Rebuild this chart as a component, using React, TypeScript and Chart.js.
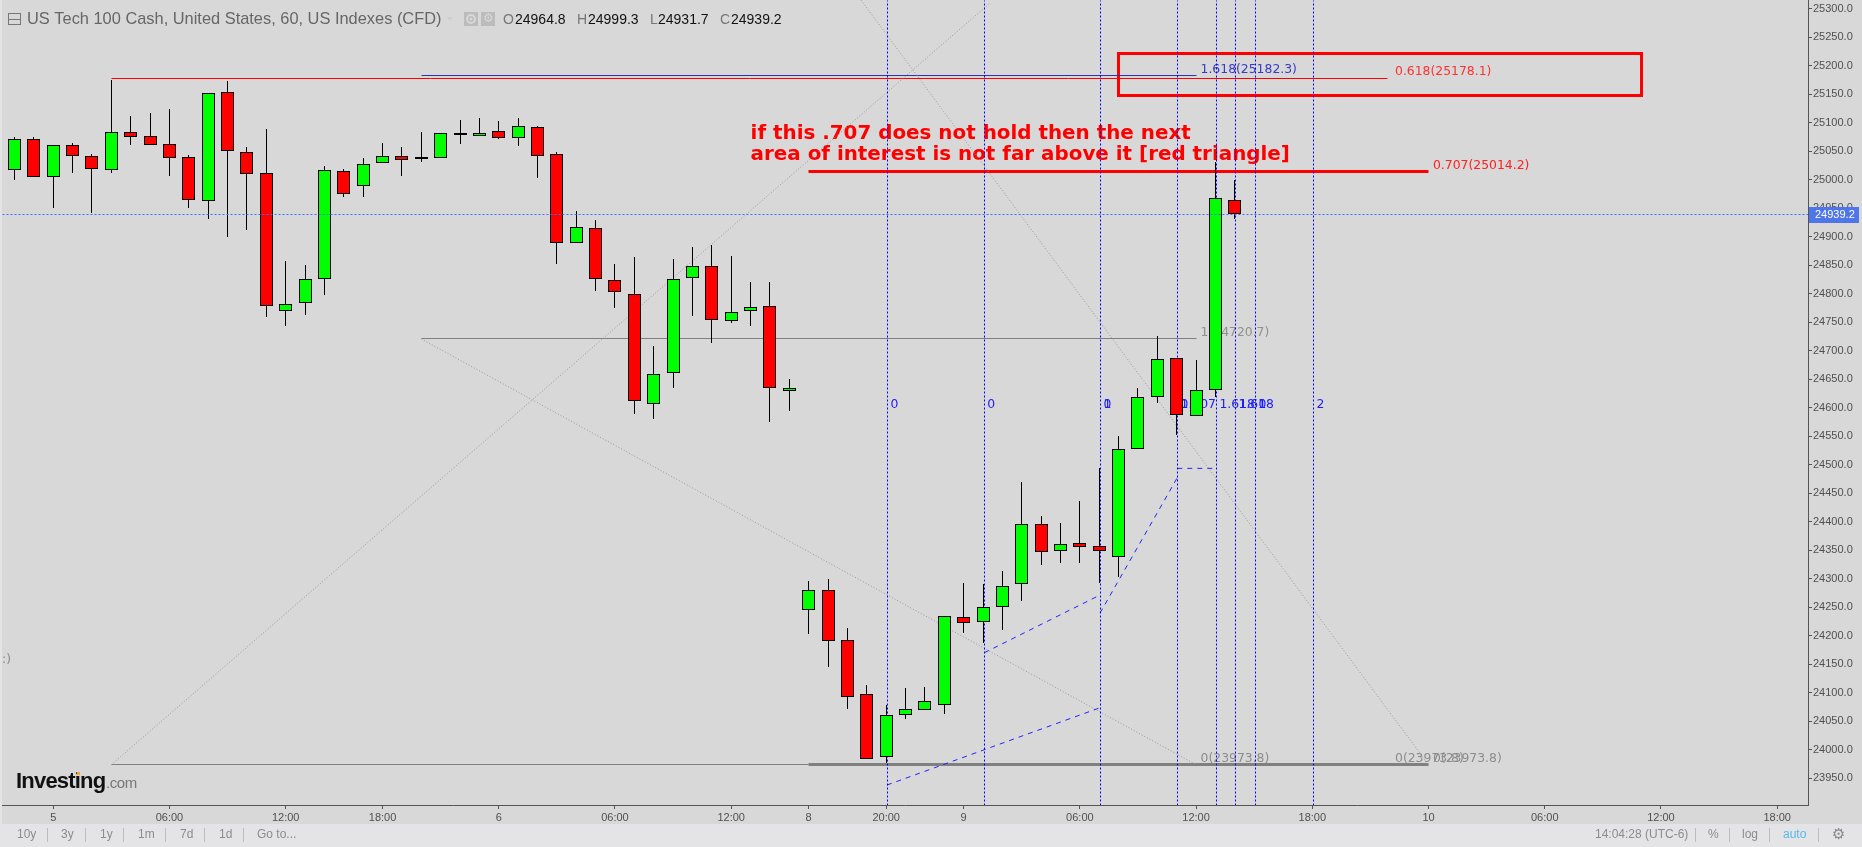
import React, { useEffect, useRef } from "react";
import { Chart, registerables } from "chart.js";

Chart.register(...registerables);

// 60-minute candles, US Tech 100 Cash
const opens = [25017,25071,25004,25061,25042,25017,25084,25076.7,25062.6,25040,24962,25153.8,25048.6,25011.8,24769,24783,24825,25015.3,24988.4,25028.7,25041.6,25035.7,25037.5,25081.9,25076,25085.4,25072.6,25092.5,25045,24888.4,24915.3,24824,24799.5,24606,24660,24827,24848.6,24751.6,24769,24778.5,24628.8,24244.6,24280.3,24192.6,24097.9,23986.8,24060.4,24069,24078,24233,24223.6,24249.9,24290,24396,24348,24362.7,24357.5,24337.6,24527.6,24618.3,24687.3,24585,24630.5,24964.8];
const highs = [25075.5,25074,25061,25065,25045,25175.5,25112,25117.6,25124.6,25044,25152,25173.7,25058,25089.5,24858,24851,25024.6,25019.4,25038.7,25065,25058,25083.7,25081.9,25105.3,25108.8,25103.6,25108.8,25094.8,25049,24945.7,24930,24852.7,24865,24708.9,24861.5,24882.5,24886,24866.8,24821,24821,24651,24296.7,24300,24214,24114,24079,24109,24110.7,24234.7,24293,24290.8,24314.2,24470,24410.7,24398.4,24437,24494.3,24551,24634.6,24726,24687.3,24684.3,25030.5,24999.3];
const lows = [25000,25004,24951,25011,24942,25011,25061.5,25060,25007,24951,24931.6,24900,24912,24759.8,24744,24763,24797,24970,24970,25028.7,25007,25030.5,25037.5,25063.2,25076,25070.8,25059.7,25003.6,24852.7,24888.4,24805,24775.6,24589.6,24580.8,24635,24761.5,24714,24749,24743.9,24575.6,24595,24203.7,24145.8,24072,23983,23977.4,24054.6,24069,24063.4,24205.5,24187.9,24210.7,24261.6,24324.7,24328,24328,24293,24303.7,24527.6,24609,24552.8,24585,24618.8,24931.7];
const closes = [25071.4,25004,25061,25041,25018,25083.7,25074.3,25060,25037.5,24964.4,25152,25049.8,25009.4,24777.9,24782,24826,25017,24974.3,25027.6,25041.6,25034,25039.8,25081.9,25077.8,25081.9,25072.6,25094.2,25041,24888.4,24917,24825,24802.4,24611,24659,24826,24848.6,24753.3,24768,24776.7,24634,24634,24280.3,24190,24092,23983,24061,24071.5,24085.6,24234.7,24221.8,24250.5,24287.3,24396,24346.4,24361,24355,24348,24527.6,24619,24685.5,24586.7,24631.1,24968,24939.2];

const xTickIndex = [2,8,14,19,25,31,37,41,45,49,55,61,67,73,79,85,91];
const xTickLabels = ["5","06:00","12:00","18:00","6","06:00","12:00","8","20:00","9","06:00","12:00","18:00","10","06:00","12:00","18:00"];

const lastPrice = 24939.2;
const xRange = [-0.645, 92.59];
const yRange = [23903.1, 25315.1];

const verticalIndex = [45.07,50.07,56.06,60.04,62.05,63.03,64.07,67.06];

const level618 = 25178.1;
const level1618 = 25182.3;
const level707 = 25014.2;
const level1 = 24720.7;
const level0 = 23973.8;

const redBox = [[56.97,25220.4],[84,25220.4],[84,25148.4],[56.97,25148.4],[56.97,25220.4]];
const diagonals = [
  [[5,23973.8],[50.4,25311]],
  [[21,24720.7],[61,23973.8]],
  [[43.7,25315],[73,23973.8]],
];
const dashedPaths = [
  [[45.04,23938.1],[56.04,24073.7]],
  [[50.07,24170.2],[56.04,24271.4]],
  [[56.04,24239.8],[60.03,24477.2]],
  [[60.03,24493.6],[62.03,24493.6]],
];

const levelLabels = [
  ["1.618(25182.3)",61.23,25182.3,"#3a3ac4"],
  ["0.618(25178.1)",71.27,25178.1,"#ff3030"],
  ["0.707(25014.2)",73.23,25014.2,"#ff2020"],
  ["1(24720.7)",61.23,24720.7,"#909090"],
  ["0(23973.8)",61.23,23973.8,"#8c8c8c"],
  ["0(23973.8)",71.27,23973.8,"#8c8c8c"],
  ["0(23973.8)",73.23,23973.8,"#8c8c8c"],
];
const timeLabels = [
  ["0",45.07],["0",50.07],["0",56.06],["1",56.06],["0.707",60.04],["1",60.04],["1.618",62.05],["1.618",63.03],["1",64.07],["0",64.07],["2",67.06],
];
const timeLabelPrice = 24605;

const noteLines = ["if this .707 does not hold then the next","area of interest is not far above it [red triangle]"];
const notePrices = [25081,25044];
const noteIndex = 38;

const titleText = "US Tech 100 Cash, United States, 60, US Indexes (CFD)";
const ohlcLabels = [["O","24964.8"],["H","24999.3"],["L","24931.7"],["C","24939.2"]];
const rangeButtons = ["10y","3y","1y","1m","7d","1d","Go to..."];

const hSeg = (a: number, b: number, v: number) => [{ x: a, y: v }, { x: b, y: v }];
const toPts = (p: number[][]) => p.map(([x, y]) => ({ x, y }));

const snapPlugin = {
  id: "snap",
  afterDatasetsUpdate(chart: any) {
    chart.getSortedVisibleDatasetMetas().forEach((meta: any) => {
      const ds = chart.data.datasets[meta.index];
      if (meta.type === "bar") {
        meta.data.forEach((el: any) => {
          el.x = Math.floor(el.x) + 0.5;
          el.y = Math.round(el.y);
          el.base = Math.round(el.base);
        });
      } else if (ds.snap) {
        meta.data.forEach((el: any) => {
          el.x = Math.floor(el.x) + 0.5;
          el.y = Math.floor(el.y) + 0.5;
        });
      }
    });
  },
};

const backdropPlugin = {
  id: "backdrop",
  beforeDraw(chart: any) {
    const c = chart.ctx;
    c.save();
    c.fillStyle = "#d8d8d8";
    c.fillRect(0, 0, 1862, 847);
    c.fillStyle = "#e4e4e6";
    c.fillRect(0, 0, 2, 847);
    c.fillRect(0, 824, 1862, 23);
    c.restore();
  },
  beforeDatasetsDraw(chart: any) {
    const c = chart.ctx;
    const X = chart.scales.x;
    const Y = chart.scales.y;
    c.save();
    c.textBaseline = "middle";
    c.textAlign = "left";
    c.font = "12.4px 'DejaVu Sans'";
    levelLabels.forEach(([t, i, v, col]: any) => {
      c.fillStyle = col;
      c.fillText(t, X.getPixelForValue(i), Y.getPixelForValue(v) - 6);
    });
    c.fillStyle = "#8c8c8c";
    c.fillText(":)", 2, 660);
    c.fillStyle = "#1c1cff";
    timeLabels.forEach(([t, i]: any) => {
      c.fillText(t, X.getPixelForValue(i) + 3, Y.getPixelForValue(timeLabelPrice));
    });
    c.font = "bold 19.9px 'DejaVu Sans'";
    c.fillStyle = "#ff0000";
    noteLines.forEach((t, k) => {
      c.fillText(t, X.getPixelForValue(noteIndex), Y.getPixelForValue(notePrices[k]));
    });
    c.restore();
  },
  afterDraw(chart: any) {
    const c = chart.ctx;
    const Y = chart.scales.y;
    c.save();
    c.textBaseline = "middle";
    c.textAlign = "left";
    // header
    c.strokeStyle = "#777";
    c.lineWidth = 1;
    c.strokeRect(8.5, 13.5, 12, 11);
    c.beginPath();
    c.moveTo(8.5, 19.5);
    c.lineTo(20.5, 19.5);
    c.stroke();
    c.font = "16.4px 'Liberation Sans'";
    c.fillStyle = "#666";
    c.fillText(titleText, 27, 19);
    c.fillStyle = "#cfcfcf";
    c.beginPath();
    c.moveTo(447, 17);
    c.lineTo(453, 17);
    c.lineTo(450, 21);
    c.fill();
    c.fillStyle = "#bcbcbc";
    c.fillRect(464, 12, 14, 14);
    c.fillRect(481, 12, 14, 14);
    c.strokeStyle = "#d8d8d8";
    c.lineWidth = 2;
    c.beginPath();
    c.arc(471, 19, 4, 0, Math.PI * 2);
    c.stroke();
    c.fillStyle = "#d8d8d8";
    c.beginPath();
    c.arc(471, 19, 1.5, 0, Math.PI * 2);
    c.fill();
    c.font = "12px 'DejaVu Sans'";
    c.fillText("\u2699", 483, 19);
    const letterX = [503, 577, 650, 720];
    const valueX = [515, 588, 658, 731];
    c.font = "14px 'Liberation Sans'";
    ohlcLabels.forEach(([l, v], k) => {
      c.fillStyle = "#777";
      c.fillText(l, letterX[k], 20);
      c.fillStyle = "#111";
      c.fillText(v, valueX[k], 20);
    });
    // price tag
    const py = Y.getPixelForValue(lastPrice);
    c.fillStyle = "#4f75ea";
    c.fillRect(1809, Math.round(py) - 7, 50, 16);
    c.fillStyle = "#fff";
    c.font = "11px 'Liberation Sans'";
    c.fillText("24939.2", 1815, Math.round(py) + 1);
    // logo
    c.fillStyle = "#111";
    c.font = "bold 22px 'Liberation Sans'";
    c.letterSpacing = "-0.8px";
    c.fillText("Investing", 16, 782);
    c.letterSpacing = "0px";
    c.fillStyle = "#777";
    c.font = "15px 'Liberation Sans'";
    c.letterSpacing = "-0.4px";
    c.fillText(".com", 106, 784);
    c.letterSpacing = "0px";
    c.fillStyle = "#f5a623";
    c.fillRect(77, 772, 3, 3);
    // bottom bar
    c.font = "12px 'Liberation Sans'";
    c.fillStyle = "#8c8c8c";
    const btnX = [17, 61, 100, 138, 180, 219, 257];
    rangeButtons.forEach((t, k) => c.fillText(t, btnX[k], 835));
    c.strokeStyle = "#bdbdbd";
    c.lineWidth = 1;
    [47.5, 85.5, 123.5, 165.5, 204.5, 243.5, 1695.5, 1729.5, 1769.5, 1818.5].forEach((x) => {
      c.beginPath();
      c.moveTo(x, 828);
      c.lineTo(x, 842);
      c.stroke();
    });
    c.font = "12px 'Liberation Sans'";
    c.fillStyle = "#8c8c8c";
    c.fillText("14:04:28", 1595, 835);
    c.fillText("(UTC-6)", 1645, 835);
    c.fillText("%", 1708, 835);
    c.fillText("log", 1742, 835);
    c.fillStyle = "#58b8e8";
    c.fillText("auto", 1783, 835);
    c.fillStyle = "#888";
    c.font = "15px 'DejaVu Sans'";
    c.fillText("\u2699", 1832, 835);
    c.restore();
  },
};

export default function App() {
  const ref = useRef<HTMLCanvasElement | null>(null);
  useEffect(() => {
    if (!ref.current) return;
    const lineBase = {
      type: "line",
      pointRadius: 0,
      pointHoverRadius: 0,
      fill: false,
      tension: 0,
      order: 3,
    };
    const datasets: any[] = [
      {
        ...lineBase,
        data: hSeg(xRange[0], xRange[1], lastPrice),
        borderColor: "#3f6fff",
        borderWidth: 1,
        borderDash: [2, 2],
        snap: true,
        order: 0,
      },
      {
        type: "bar",
        order: 1,
        data: opens.map((o, i) => ({ x: i, y: [o, closes[i]] })),
        backgroundColor: opens.map((o, i) => (closes[i] >= o ? "#00ff00" : "#ff0000")),
        borderColor: "#000000",
        borderWidth: 1,
        borderSkipped: false,
        inflateAmount: 0,
        barThickness: 13,
        grouped: false,
      },
      {
        type: "bar",
        order: 2,
        data: highs.map((h, i) => ({ x: i, y: [lows[i], h] })),
        backgroundColor: "#000000",
        borderWidth: 0,
        inflateAmount: 0,
        barThickness: 1,
        grouped: false,
      },
      ...verticalIndex.map((x) => ({
        ...lineBase,
        data: [{ x, y: yRange[0] }, { x, y: yRange[1] }],
        borderColor: "#0000ff",
        borderWidth: 1,
        borderDash: [2, 2],
        snap: true,
      })),
      ...dashedPaths.map((p) => ({
        ...lineBase,
        data: toPts(p),
        borderColor: "#2222ff",
        borderWidth: 1,
        borderDash: [5, 5],
      })),
      ...diagonals.map((p) => ({
        ...lineBase,
        data: toPts(p),
        borderColor: "#999999",
        borderWidth: 1,
        borderDash: [1, 2],
      })),
      { ...lineBase, data: hSeg(5, 70.9, level618), borderColor: "#ff0000", borderWidth: 1, snap: true },
      { ...lineBase, data: hSeg(21, 61, level1618), borderColor: "#3030b4", borderWidth: 1, snap: true },
      { ...lineBase, data: hSeg(41, 73, level707), borderColor: "#ff0000", borderWidth: 3, snap: true },
      { ...lineBase, data: hSeg(21, 61, level1), borderColor: "#808080", borderWidth: 1, snap: true },
      { ...lineBase, data: hSeg(5, 41, level0), borderColor: "#808080", borderWidth: 1, snap: true },
      { ...lineBase, data: hSeg(41, 73, level0), borderColor: "#808080", borderWidth: 3, snap: true },
      {
        ...lineBase,
        data: toPts(redBox),
        borderColor: "#ff0000",
        borderWidth: 3,
        borderDash: [5000],
        borderCapStyle: "square",
        snap: true,
      },
    ];
    const zero = (s: any) => {
      s.paddingTop = 0;
      s.paddingBottom = 0;
      s.paddingLeft = 0;
      s.paddingRight = 0;
    };
    const chart = new Chart(ref.current, {
      type: "bar",
      data: { datasets },
      plugins: [snapPlugin, backdropPlugin],
      options: {
        responsive: false,
        animation: false,
        devicePixelRatio: 1,
        layout: { padding: { left: 2, top: 0, right: 0, bottom: 0 } },
        plugins: { legend: { display: false }, tooltip: { enabled: false } },
        scales: {
          x: {
            type: "linear",
            offset: false,
            min: xRange[0],
            max: xRange[1],
            afterBuildTicks: (axis: any) => {
              axis.ticks = xTickIndex.map((value) => ({ value }));
            },
            afterFit: (s: any) => {
              s.height = 42;
              zero(s);
            },
            grid: { drawOnChartArea: false, offset: false, color: "#555555", tickColor: "#555555", tickLength: 4 },
            border: { color: "#555555" },
            ticks: {
              autoSkip: false,
              maxRotation: 0,
              padding: 2,
              color: "#505050",
              font: { family: "'Liberation Sans'", size: 11 },
              callback: (v: any) => {
                const i = xTickIndex.indexOf(v);
                return i >= 0 ? xTickLabels[i] : "";
              },
            },
          },
          y: {
            type: "linear",
            position: "right",
            min: yRange[0],
            max: yRange[1],
            afterFit: (s: any) => {
              s.width = 54;
              zero(s);
            },
            grid: { drawOnChartArea: false, color: "#555555", tickColor: "#555555", tickLength: 4 },
            border: { color: "#555555" },
            ticks: {
              stepSize: 50,
              includeBounds: false,
              autoSkip: false,
              padding: 1,
              color: "#505050",
              font: { family: "'Liberation Sans'", size: 11 },
              callback: (v: any) => Number(v).toFixed(1),
            },
          },
        },
      },
    } as any);
    return () => chart.destroy();
  }, []);
  return (
    <div style={{ position: "fixed", left: 0, top: 0, width: 1862, height: 847, overflow: "hidden" }}>
      <canvas ref={ref} width={1862} height={847} style={{ display: "block", width: 1862, height: 847 }} />
    </div>
  );
}
